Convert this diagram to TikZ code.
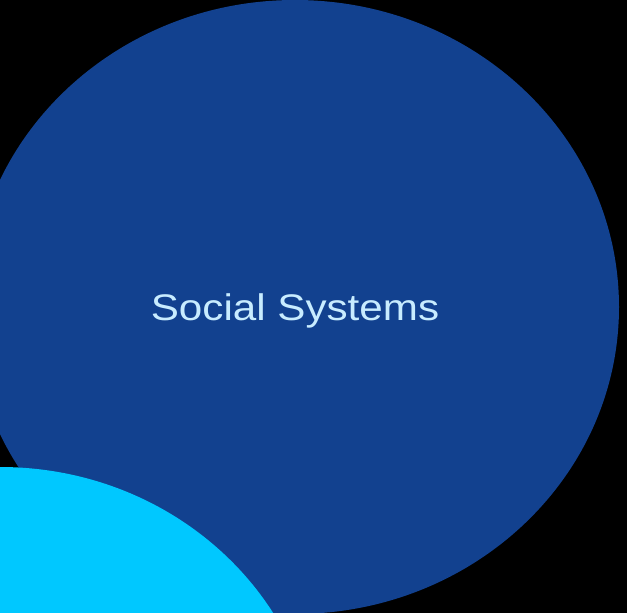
\documentclass[tikz,border=0pt]{standalone}
\usepackage{fontspec}
\setmainfont{Liberation Sans}
\usepackage{tikz}
\usetikzlibrary{positioning}
\definecolor{darkblue}{RGB}{18,65,143}
\definecolor{skyblue}{RGB}{0,200,255}
\definecolor{paleblue}{RGB}{200,236,255}

\begin{document}
\begin{tikzpicture}[x=1pt,y=-1pt,
	blob/.style={fill=#1,draw=none},
	caption/.style={text=paleblue,font=\fontsize{37}{44}\selectfont,xscale=1.14,inner sep=0pt}]
\fill[black] (0,0) rectangle (627,613);
\useasboundingbox (0,0) rectangle (627,613);
\clip (0,0) rectangle (627,613);
\fill[blob=darkblue] (295,307) ellipse [x radius=324, y radius=307];
\fill[blob=skyblue] (0,769) ellipse [x radius=319, y radius=302];
\node [caption, anchor=base] (title) at (295,320) {Social Systems};
\end{tikzpicture}
\end{document}
